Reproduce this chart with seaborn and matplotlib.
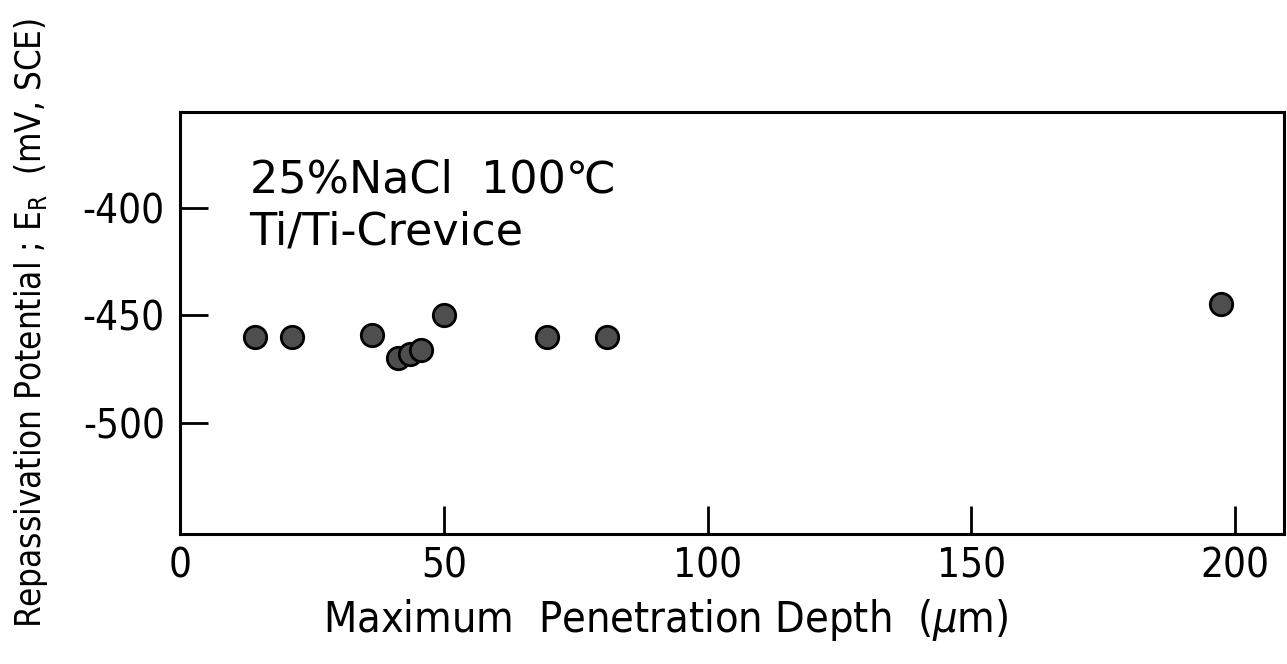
import matplotlib
matplotlib.use("Agg")
import matplotlib.pyplot as plt
import seaborn as sns
import pandas as pd

# Repassivation potential vs. maximum penetration depth (Ti/Ti crevice, 25% NaCl, 100 C)
depth_um = [14.2, 21.3, 36.3, 41.4, 43.6, 45.6, 50.1, 69.5, 80.9, 197.3]
potential_mv = [-460, -460, -459, -470, -468, -466, -450, -460, -460, -445]

x_ticks = [0, 50, 100, 150, 200]
y_ticks = [-400, -450, -500]

df = pd.DataFrame({"depth": depth_um, "potential": potential_mv})

sns.set_theme(style="white")
plt.rcParams["font.family"] = ["DejaVu Sans"]
plt.rcParams["font.stretch"] = "condensed"
plt.rcParams["mathtext.fontset"] = "dejavusans"

fig = plt.figure(figsize=(12.87, 6.64), dpi=100)
ax = fig.add_axes([0.1399, 0.1958, 0.8578, 0.6355])

sns.scatterplot(data=df, x="depth", y="potential", ax=ax, s=260,
                color="#4e4e4e", edgecolor="black", linewidth=2.0,
                zorder=3, legend=False)

ax.set_xlim(0, 209.3)
ax.set_ylim(-551.7, -355.6)
ax.set_xticks(x_ticks)
ax.set_yticks(y_ticks)
ax.set_xticklabels([str(v) for v in x_ticks])
ax.set_yticklabels([f"-{abs(v)}" for v in y_ticks])

for side in ["left", "bottom", "right", "top"]:
    ax.spines[side].set_visible(True)
    ax.spines[side].set_color("black")
    ax.spines[side].set_linewidth(2.2)

ax.tick_params(axis="both", which="major", direction="in", length=20, width=2.0,
               colors="black", labelsize=29, bottom=True, left=True,
               top=False, right=False)
ax.tick_params(axis="y", pad=11)
ax.tick_params(axis="x", pad=9)

ax.set_xlabel("Maximum  Penetration Depth  ($\\mu$m)", fontsize=31, color="black")
ax.xaxis.set_label_coords(0.44, -0.15)
ax.set_ylabel("Repassivation Potential ; E$_\\mathrm{R}$  (mV, SCE)",
              fontsize=25, color="black")
ax.yaxis.set_label_coords(-0.118, 0.5)

ax.text(0.063, 0.81, "25%NaCl  100\u2103", transform=ax.transAxes,
        fontsize=32, fontstretch="normal", color="black", va="baseline")
ax.text(0.063, 0.685, "Ti/Ti-Crevice", transform=ax.transAxes,
        fontsize=32, fontstretch="normal", color="black", va="baseline")

fig.savefig("out.png", dpi=100, facecolor="white")
